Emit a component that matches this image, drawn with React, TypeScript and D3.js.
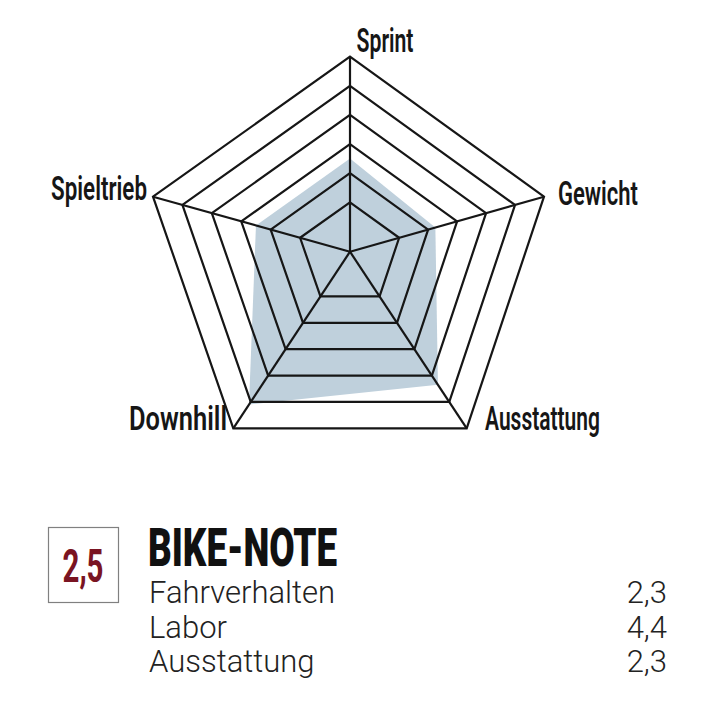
import React from "react";
import * as d3 from "d3";

// radar axes (clockwise from top) and the bike's scores on the ring scale 0..6
const axes = ["Sprint", "Gewicht", "Ausstattung", "Downhill", "Spieltrieb"];
const scores = [2.5, 2.25, 4.35, 5.1, 2.5];
const ringLevels = [1, 2, 3, 4, 5, 6];

// summary block
const totalGrade = "2,5";
const gradeTitle = "BIKE-NOTE";
const subCategories = ["Fahrverhalten", "Labor", "Ausstattung"];
const subGrades = ["2,3", "4,4", "2,3"];

// grid geometry (the printed pentagon is slightly irregular)
const W = 712;
const H = 704;
const cx = 350;
const cy = 251.7;
const axisEnds: [number, number][] = [
  [0, -195],
  [194, -55],
  [116.7, 176.6],
  [-116.7, 176.6],
  [-197, -55],
];

const labelPos = [
  { x: 385, y: 52, anchor: "middle", len: 57 },
  { x: 558, y: 205, anchor: "start", len: 80 },
  { x: 485, y: 430, anchor: "start", len: 115 },
  { x: 227, y: 430, anchor: "end", len: 98 },
  { x: 147, y: 200, anchor: "end", len: 96 },
];

const INK = "#161616";
const FILL = "#bfd0dc";
const RED = "#7a1422";

export default function App() {
  // value -> share of the axis length (rings do not start at the centre)
  const r = d3.scaleLinear().domain([0, 6]).range([0.104, 1]);
  const pt = (i: number, v: number): [number, number] => {
    const f = r(v);
    return [cx + axisEnds[i][0] * f, cy + axisEnds[i][1] * f];
  };
  const closed = d3.line<[number, number]>().curve(d3.curveLinearClosed);

  const ringPaths = ringLevels.map((lv) => closed(axes.map((_, i) => pt(i, lv))) || "");
  const dataPath = closed(scores.map((s, i) => pt(i, s))) || "";

  const condensed = "Roboto, 'Liberation Sans', sans-serif";

  return (
    <div style={{ position: "absolute", left: 0, top: 0 }}>
      <svg width={W} height={H} viewBox={`0 0 ${W} ${H}`} style={{ display: "block", background: "#fff" }}>
        <path d={dataPath} fill={FILL} stroke="none" />
        <g fill="none" stroke={INK} strokeWidth={2.2} strokeLinejoin="miter">
          {ringPaths.map((d, k) => (
            <path key={k} d={d} />
          ))}
          {axes.map((_, i) => {
            const [x, y] = pt(i, 6);
            return <line key={i} x1={cx} y1={cy} x2={x} y2={y} />;
          })}
        </g>
        {axes.map((a, i) => (
          <text
            key={a}
            x={labelPos[i].x}
            y={labelPos[i].y}
            textAnchor={labelPos[i].anchor as any}
            fontFamily={condensed}
            fontWeight={600}
            fontSize={34}
            fill={INK}
            textLength={labelPos[i].len}
            lengthAdjust="spacingAndGlyphs"
          >
            {a}
          </text>
        ))}

        {/* grade box */}
        <rect x={48.5} y={527.5} width={70} height={75} fill="#fff" stroke="#808080" strokeWidth={1.2} />
        <text
          x={83}
          y={582}
          textAnchor="middle"
          fontFamily={condensed}
          fontWeight={700}
          fontSize={46}
          fill={RED}
          textLength={41}
          lengthAdjust="spacingAndGlyphs"
        >
          {totalGrade}
        </text>
        <text
          x={148}
          y={566}
          fontFamily={condensed}
          fontWeight={900}
          fontSize={54}
          fill="#111"
          textLength={189}
          lengthAdjust="spacingAndGlyphs"
        >
          {gradeTitle}
        </text>
        {subCategories.map((c, i) => (
          <g key={c} fontFamily={condensed} fontWeight={300} fontSize={31} fill="#222">
            <text x={149} y={603 + i * 34.5}>
              {c}
            </text>
            <text x={667} y={603 + i * 34.5} textAnchor="end">
              {subGrades[i]}
            </text>
          </g>
        ))}
      </svg>
    </div>
  );
}
